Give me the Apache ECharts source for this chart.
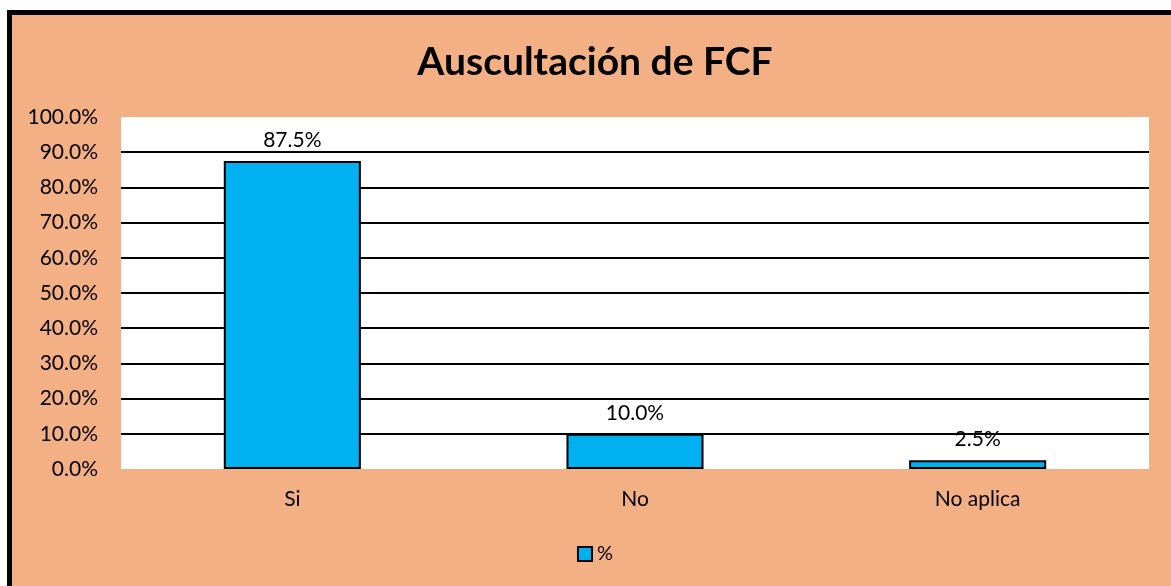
<!DOCTYPE html>
<html>
<head>
<meta charset="utf-8">
<script src="https://cdn.jsdelivr.net/npm/echarts@6/dist/echarts.min.js"></script>
<style>
    html, body {
        margin: 0;
        padding: 0;
        background: #fff;
        overflow: hidden;
        width: 1171px;
        height: 586px;
    }
    .chart-box {
        position: absolute;
        left: 7px;
        top: 10px;
        border: 5px solid #000;
        background: #f3b084;
    }
    .fcf-chart {
        width: 1166px;
        height: 600px;
    }
</style>
</head>
<body>
<div class="chart-box">
    <div class="fcf-chart"></div>
</div>
<script>
// datos del grafico
let categories = ['Si', 'No', 'No aplica'];
let values = [0.875, 0.10, 0.025];
let seriesName = '%';

let chart = echarts.init(document.querySelector('.chart-box .fcf-chart'));
let font = 'Lato, "Noto Sans", sans-serif';
let option = {
    backgroundColor: '#f3b084',
    title: {
        text: 'Auscultación de FCF',
        left: 'center',
        top: 23,
        textStyle: {
            fontFamily: font,
            fontSize: 39,
            fontWeight: 'bold',
            color: '#000'
        }
    },
    legend: {
        bottom: 46,
        left: 'center',
        icon: 'rect',
        itemWidth: 14,
        itemHeight: 14,
        itemGap: 4,
        textStyle: {
            fontFamily: font,
            fontSize: 20,
            color: '#000'
        },
        data: [seriesName]
    },
    grid: {
        left: 109,
        top: 102,
        width: 1028,
        height: 352,
        show: true,
        backgroundColor: '#fff',
        borderWidth: 0
    },
    xAxis: {
        type: 'category',
        data: categories,
        axisLine: { show: false },
        axisTick: { show: false },
        axisLabel: {
            margin: 20,
            fontFamily: font,
            fontSize: 21,
            color: '#000'
        }
    },
    yAxis: {
        type: 'value',
        min: 0,
        max: 1,
        interval: 0.1,
        axisLine: { show: false },
        axisTick: { show: false },
        splitLine: {
            show: true,
            showMinLine: false,
            showMaxLine: false,
            lineStyle: { color: '#000', width: 2 }
        },
        axisLabel: {
            margin: 23,
            fontFamily: font,
            fontSize: 21,
            color: '#000',
            formatter: function(value){
                return (value * 100).toFixed(1) + '%';
            }
        }
    },
    series: [
        {
            name: seriesName,
            type: 'bar',
            data: values,
            barWidth: '40%',
            itemStyle: {
                color: '#00b0f0',
                borderColor: '#000',
                borderWidth: 2
            },
            label: {
                show: true,
                position: 'top',
                distance: 10,
                fontFamily: font,
                fontSize: 21,
                color: '#000',
                formatter: function(p){
                    return (p.value * 100).toFixed(1) + '%';
                }
            }
        }
    ]
};
chart.setOption(option);
</script>
</body>
</html>
